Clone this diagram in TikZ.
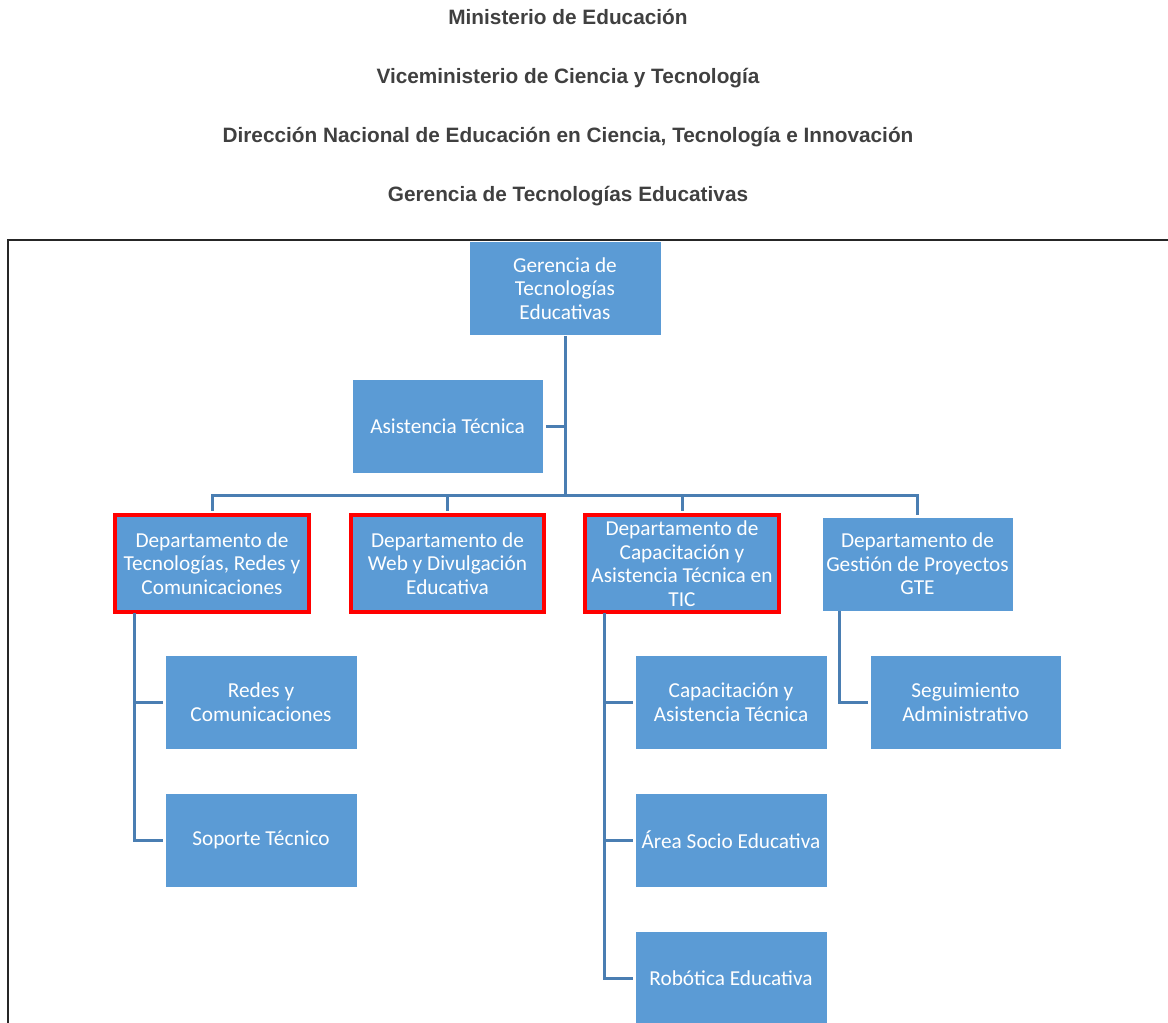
\documentclass[tikz,border=0pt]{standalone}
\usepackage{fontspec}
\setmainfont{Carlito}
\newfontfamily\titfont{Liberation Sans}
\definecolor{azul}{RGB}{91,155,213}
\definecolor{linea}{RGB}{74,126,178}
\definecolor{gris}{RGB}{64,64,64}

\begin{document}
\begin{tikzpicture}[x=1pt,y=-1pt,
    caja/.style={fill=azul, draw=white, line width=0.8pt, text=white,
        minimum width=192pt, minimum height=94pt, inner sep=0pt, align=center,
        font=\fontsize{21.3}{23.6}\selectfont},
    cajaroja/.style={caja, draw=red, line width=3.6pt, minimum width=194pt, minimum height=97pt},
    enlace/.style={draw=linea, line width=3pt},
    titulo/.style={text=gris, anchor=base, font=\titfont\bfseries\fontsize{20.8}{24}\selectfont}]

    % Marco
    \useasboundingbox (0,0) rectangle (1168,1023);
    \clip (0,0) rectangle (1168,1023);
    \draw[line width=1.2pt, black!85] (8,240) rectangle (1190,1050);

    % Encabezado
    \node[titulo] (t1) at (568,24) {Ministerio de Educación};
    \node[titulo] (t2) at (568,83) {Viceministerio de Ciencia y Tecnología};
    \node[titulo] (t3) at (568,142) {Dirección Nacional de Educación en Ciencia, Tecnología e Innovación};
    \node[titulo] (t4) at (568,201) {Gerencia de Tecnologías Educativas};

    % Gerencia y asistencia
    \node[caja] (gte) at (565,288.5) {Gerencia de\\Tecnologías\\Educativas};
    \node[caja, minimum width=191pt] (asis) at (447.5,426) {Asistencia Técnica};

    % Departamentos
    \node[cajaroja] (dtr) at (212,563.5) {Departamento de\\Tecnologías, Redes y\\Comunicaciones};
    \node[cajaroja, minimum width=193pt] (dweb) at (447.5,563.5) {Departamento de\\Web y Divulgación\\Educativa};
    \node[cajaroja] (dcap) at (682,563.5) {Departamento de\\Capacitación y\\Asistencia Técnica en\\TIC};
    \node[caja, minimum width=191pt] (dgp) at (917.5,564) {Departamento de\\Gestión de Proyectos\\GTE};

    % Unidades
    \node[caja] (redes) at (261,702) {Redes y\\Comunicaciones};
    \node[caja] (sop) at (261,840) {Soporte Técnico};
    \node[caja] (capac) at (731,702) {Capacitación y\\Asistencia Técnica};
    \node[caja] (area) at (731,840) {Área Socio Educativa};
    \node[caja] (robot) at (731,978) {Robótica Educativa};
    \node[caja, minimum width=191pt] (segui) at (965.5,702) {Seguimiento\\Administrativo};

    % Tronco y barra
    \coordinate (bus) at (565,495);
    \draw[enlace] (gte.south) -- (bus);
    \draw[enlace] (asis.east) ++(3,0) -- (asis.east -| bus);
    \draw[enlace, line cap=rect] (dtr.north |- bus) -- (dgp.north |- bus);
    \foreach \d in {dtr,dweb,dcap,dgp}
        \draw[enlace, shorten >=2pt] (\d.north |- bus) -- (\d.north);

    % Ramas
    \coordinate (ct) at (134,613);
    \coordinate (cc) at (604,613);
    \coordinate (cg) at (839,611);
    \foreach \h in {redes,sop}
        \draw[enlace, shorten >=2pt] (ct) |- (\h.west);
    \foreach \h in {capac,area,robot}
        \draw[enlace, shorten >=2pt] (cc) |- (\h.west);
    \draw[enlace, shorten >=2pt] (cg) |- (segui.west);

\end{tikzpicture}
\end{document}
